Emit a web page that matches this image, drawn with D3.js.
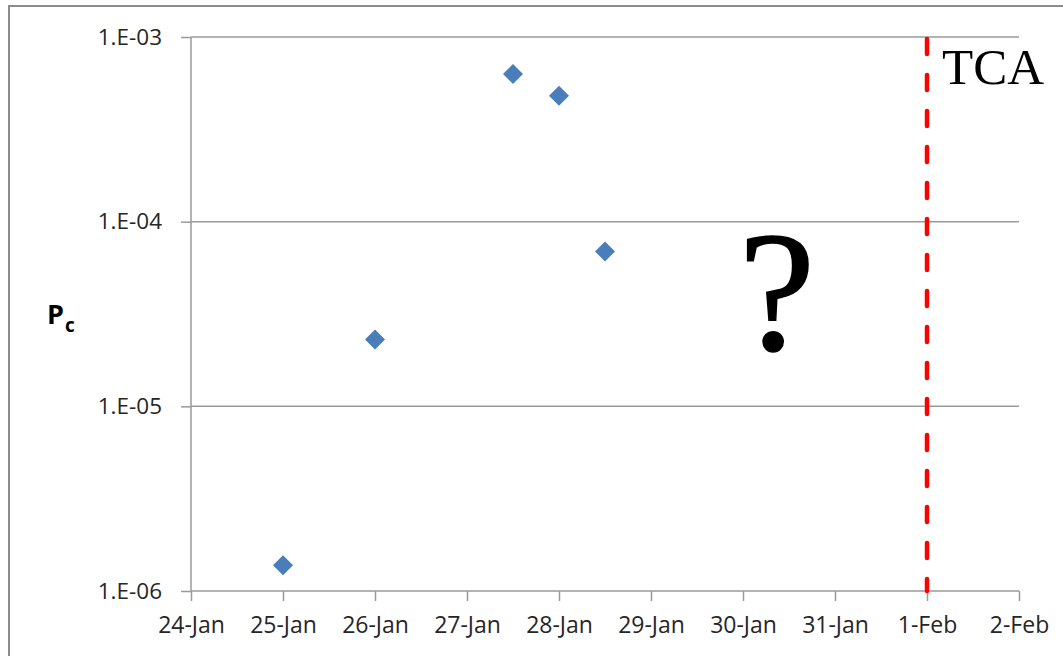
<!DOCTYPE html>
<html>
<head>
<meta charset="utf-8">
<script src="https://cdn.jsdelivr.net/npm/d3@7/dist/d3.min.js"></script>
<style>
  html, body { margin: 0; padding: 0; background: #fff; }
  svg { display: block; }
</style>
</head>
<body>
<svg id="chart" width="1063" height="656"></svg>
<script>
// ---- Data ----
const dates = ["2009-01-25T00:00Z", "2009-01-26T00:00Z", "2009-01-27T12:00Z", "2009-01-28T00:00Z", "2009-01-28T12:00Z"];
const pcValues = [1.38e-6, 2.3e-5, 6.3e-4, 4.8e-4, 6.9e-5];
const xDomain = ["2009-01-24T00:00Z", "2009-02-02T00:00Z"];
const yDomain = [1e-6, 1e-3];
const yTickValues = [1e-6, 1e-5, 1e-4, 1e-3];
const tcaDate = "2009-02-01T00:00Z";
const yLabel = "P";
const yLabelSub = "c";
const tcaLabel = "TCA";
const unknownLabel = "?";

// ---- Layout ----
const W = 1063, H = 656;
const plot = { left: 191, right: 1019, top: 37, bottom: 591 };
const gridColor = "#9a9a9a";
const textColor = "#262626";
const tickFont = "'Open Sans', 'Liberation Sans', sans-serif";

const svg = d3.select("#chart");

// Outer frame
svg.append("rect")
  .attr("x", 9).attr("y", 6)
  .attr("width", W + 20).attr("height", H + 20)
  .attr("fill", "none").attr("stroke", "#8c8c8c").attr("stroke-width", 2);

const x = d3.scaleUtc()
  .domain(xDomain.map(d => new Date(d)))
  .range([plot.left, plot.right]);

const y = d3.scaleLog()
  .domain(yDomain)
  .range([plot.bottom, plot.top]);

// Gridlines (y)
svg.append("g")
  .selectAll("line")
  .data(yTickValues.filter(v => v !== yDomain[0]))
  .join("line")
  .attr("x1", plot.left).attr("x2", plot.right)
  .attr("y1", d => y(d)).attr("y2", d => y(d))
  .attr("stroke", gridColor).attr("stroke-width", 1.5);

// Y axis
const yAxis = d3.axisLeft(y)
  .tickValues(yTickValues)
  .tickSize(10)
  .tickPadding(19)
  .tickFormat(d => "1.E-" + String(Math.round(-Math.log10(d))).padStart(2, "0"));

const gy = svg.append("g")
  .attr("transform", `translate(${plot.left},0)`)
  .call(yAxis);
gy.select(".domain").attr("stroke", gridColor).attr("stroke-width", 1.5)
  .attr("d", `M0,${plot.top}V${plot.bottom}`);
gy.selectAll(".tick line").attr("stroke", gridColor).attr("stroke-width", 1.5);
gy.selectAll(".tick text")
  .attr("fill", textColor)
  .style("font-family", tickFont)
  .style("font-size", "22.5px");

// X axis
const xTicks = d3.utcDay.range(new Date(xDomain[0]), d3.utcDay.offset(new Date(xDomain[1]), 1));
const xAxis = d3.axisBottom(x)
  .tickValues(xTicks)
  .tickSize(10)
  .tickPadding(16)
  .tickFormat(d3.utcFormat("%-d-%b"));

const gx = svg.append("g")
  .attr("transform", `translate(0,${plot.bottom})`)
  .call(xAxis);
gx.select(".domain").attr("stroke", gridColor).attr("stroke-width", 1.5)
  .attr("d", `M${plot.left},0H${plot.right}`);
gx.selectAll(".tick line").attr("stroke", gridColor).attr("stroke-width", 1.5);
gx.selectAll(".tick text")
  .attr("fill", textColor)
  .style("font-family", tickFont)
  .style("font-size", "23px");

// Y axis label P_c
const yl = svg.append("text")
  .attr("x", 47).attr("y", 324)
  .attr("fill", "#000")
  .style("font-family", tickFont)
  .style("font-weight", "bold")
  .style("font-size", "27px");
yl.append("tspan").text(yLabel);
yl.append("tspan").attr("dy", 8).attr("dx", 1).style("font-size", "19px").text(yLabelSub);

// TCA dashed line
const xt = x(new Date(tcaDate));
svg.append("line")
  .attr("x1", xt).attr("x2", xt)
  .attr("y1", plot.top + 2).attr("y2", plot.bottom)
  .attr("stroke", "#ff0000").attr("stroke-width", 4.5)
  .attr("stroke-linecap", "round")
  .attr("stroke-dasharray", "15,21");

svg.append("text")
  .attr("x", xt + 15).attr("y", 84)
  .attr("fill", "#000")
  .style("font-family", "'Liberation Serif', 'Times New Roman', serif")
  .style("font-size", "51px")
  .text(tcaLabel);

// Question mark
svg.append("text")
  .attr("x", 777).attr("y", 350)
  .attr("text-anchor", "middle")
  .attr("fill", "#000")
  .attr("stroke", "#000")
  .attr("stroke-width", 1.5)
  .style("font-family", "'Liberation Serif', 'Times New Roman', serif")
  .style("font-size", "172px")
  .text(unknownLabel);

// Points (diamonds)
const pts = dates.map((d, i) => ({ date: new Date(d), v: pcValues[i] }));
const diamond = d3.symbol().type(d3.symbolSquare).size(200);
svg.append("g")
  .selectAll("path")
  .data(pts)
  .join("path")
  .attr("d", diamond)
  .attr("transform", d => `translate(${x(d.date)},${y(d.v)}) rotate(45)`)
  .attr("fill", "#4a7ebb");
</script>
</body>
</html>
